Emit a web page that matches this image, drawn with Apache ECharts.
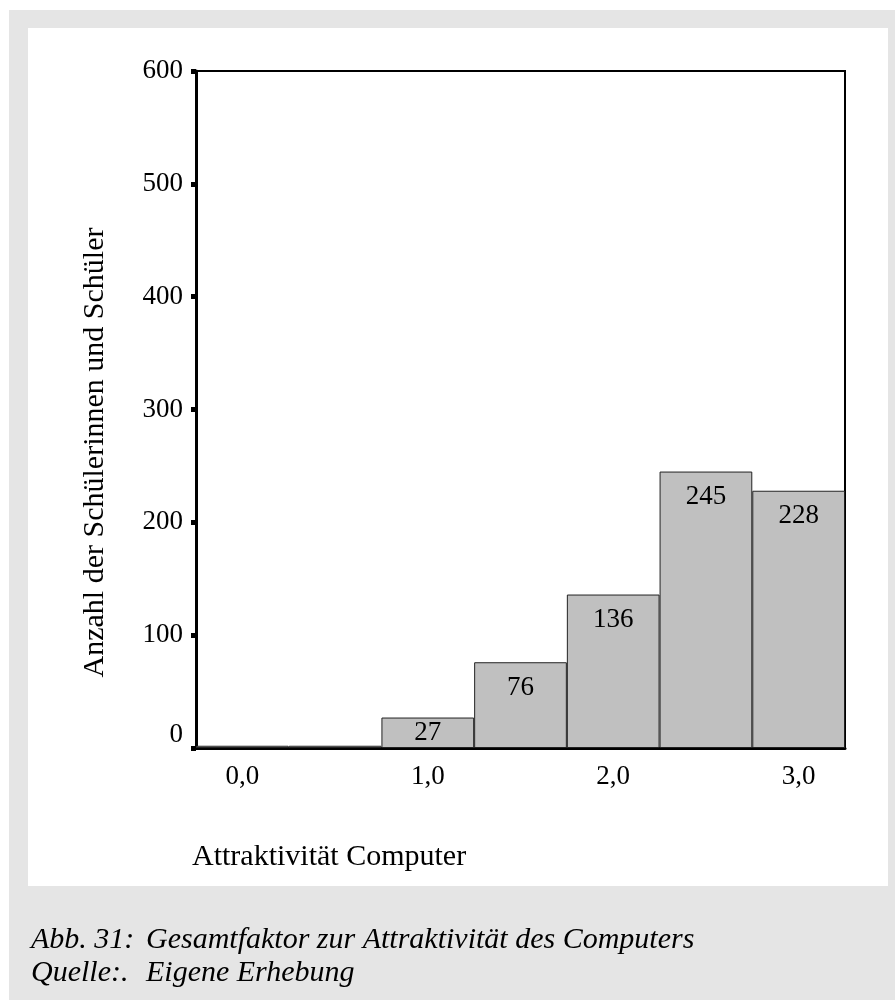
<!DOCTYPE html>
<html>
<head>
<meta charset="utf-8">
<script src="https://cdn.jsdelivr.net/npm/echarts@6/dist/echarts.min.js"></script>
<style>
  html, body { margin: 0; padding: 0; background: #fff; }
  #chart { width: 895px; height: 1002px; }
</style>
</head>
<body>
<div id="chart"></div>
<script>
// Klassen (Mittelpunkte der Balken) und Häufigkeiten
const categories = ['0,0', '0,5', '1,0', '1,5', '2,0', '2,5', '3,0']
const tickLabels = ['0,0', '', '1,0', '', '2,0', '', '3,0']
const counts = [2, 2, 27, 76, 136, 245, 228]
const yTicks = { min: 0, max: 600, interval: 100 }

const serif = '"Liberation Serif", "DejaVu Serif", serif'

const chart = echarts.init(document.getElementById('chart'))

// niedrige Balken: Beschriftung mittig im Balken
const barData = counts.map(v => (v < 40 ? { value: v, label: { position: 'inside' } } : v))

const captionStyle = { fontFamily: serif, fontSize: 30, fontStyle: 'italic', fontWeight: 'normal', color: '#000' }

const options = {
  backgroundColor: '#fff',
  animation: false,
  graphic: [
    { type: 'rect', shape: { x: 9, y: 10, width: 886, height: 990 }, style: { fill: '#e5e5e5' }, z: -10 },
    { type: 'rect', shape: { x: 28, y: 28, width: 860, height: 858 }, style: { fill: '#fff' }, z: -9 }
  ],
  title: [
    { text: 'Attraktivität Computer', left: 192, top: 842, padding: 0,
      textStyle: { fontFamily: serif, fontSize: 30, fontWeight: 'normal', color: '#000' } },
    { text: 'Abb. 31:', left: 31, top: 925, padding: 0, textStyle: captionStyle },
    { text: 'Gesamtfaktor zur Attraktivität des Computers', left: 146, top: 925, padding: 0, textStyle: captionStyle },
    { text: 'Quelle:.', left: 31, top: 958, padding: 0, textStyle: captionStyle },
    { text: 'Eigene Erhebung', left: 146, top: 958, padding: 0, textStyle: captionStyle }
  ],
  grid: {
    left: 196,
    top: 71,
    width: 649,
    height: 677,
    show: true,
    backgroundColor: 'transparent',
    borderColor: '#000',
    borderWidth: 2
  },
  xAxis: {
    type: 'category',
    data: categories,
    axisLine: { lineStyle: { color: '#000', width: 3 } },
    axisTick: { alignWithLabel: true, interval: 0, length: 7, lineStyle: { color: '#000', width: 6 } },
    axisLabel: {
      interval: 0,
      margin: 15,
      fontFamily: serif,
      fontSize: 27,
      color: '#000',
      formatter: (v, i) => tickLabels[i]
    }
  },
  yAxis: {
    type: 'value',
    min: yTicks.min,
    max: yTicks.max,
    interval: yTicks.interval,
    name: 'Anzahl der Schülerinnen und Schüler',
    nameLocation: 'middle',
    nameRotate: 90,
    nameGap: 86,
    nameTextStyle: { fontFamily: serif, fontSize: 30, color: '#000', padding: [0, 86, 0, 0] },
    splitLine: { show: false },
    axisLine: { show: true, lineStyle: { color: '#000', width: 3 } },
    axisTick: { show: true, length: 5, lineStyle: { color: '#000', width: 5 } },
    axisLabel: {
      margin: 13,
      fontFamily: serif,
      fontSize: 27,
      color: '#000',
      verticalAlignMinLabel: 'bottom'
    }
  },
  series: [{
    type: 'bar',
    data: barData,
    barCategoryGap: '0%',
    itemStyle: { color: '#c0c0c0', borderColor: '#222', borderWidth: 1 },
    label: {
      show: true,
      position: 'insideTop',
      distance: 12,
      fontFamily: serif,
      fontSize: 27,
      color: '#000',
      formatter: p => (p.value >= 10 ? p.value : '')
    }
  }]
}

chart.setOption(options)
</script>
</body>
</html>
